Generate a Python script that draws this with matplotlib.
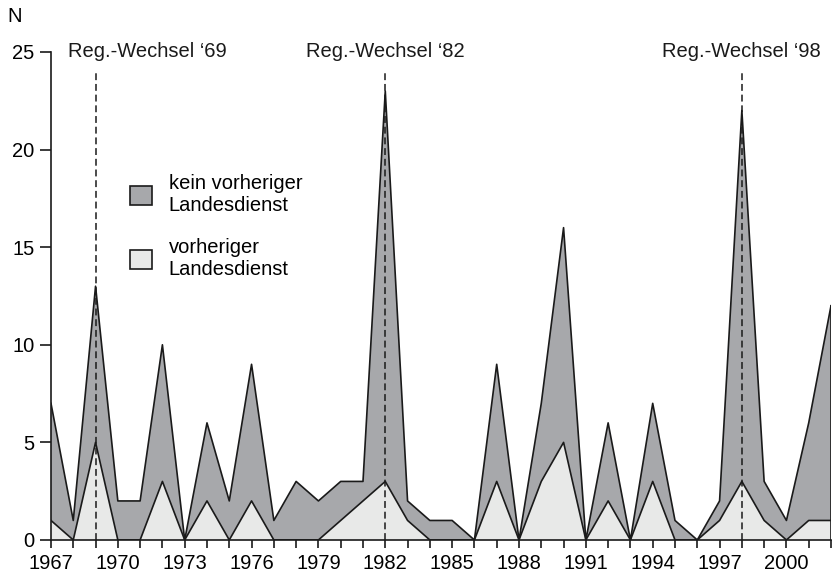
import matplotlib.pyplot as plt
import numpy as np
from matplotlib.patches import Patch

plt.rcParams['font.family'] = ['Liberation Sans', 'DejaVu Sans']

# data
years = np.arange(1967, 2003)
total = [7, 1, 13, 2, 2, 10, 0, 6, 2, 9, 1, 3, 2, 3, 3, 23, 2, 1, 1, 0,
         9, 0, 7, 16, 0, 6, 0, 7, 1, 0, 2, 22, 3, 1, 6, 12]
vorheriger = [1, 0, 5, 0, 0, 3, 0, 2, 0, 2, 0, 0, 0, 1, 2, 3, 1, 0, 0, 0,
              3, 0, 3, 5, 0, 2, 0, 3, 0, 0, 1, 3, 1, 0, 1, 1]
wechsel_years = [1969, 1982, 1998]
wechsel_labels = ['Reg.-Wechsel \u201869', 'Reg.-Wechsel \u201882', 'Reg.-Wechsel \u201898']

total = np.array(total)
vorheriger = np.array(vorheriger)

dark = '#a7a8ab'
light = '#e8e9e8'
edge = '#1a1a1a'
fs = 14.5

fig = plt.figure(figsize=(8.33, 5.82), dpi=100)
ax = fig.add_axes([0.0612, 0.0722, 0.9364, 0.8385])

ax.fill_between(years, vorheriger, total, facecolor=dark, edgecolor='none', zorder=1)
ax.fill_between(years, 0, vorheriger, facecolor=light, edgecolor='none', zorder=1)
ax.plot(years, total, color=edge, lw=1.2, zorder=3)
ax.plot(years, vorheriger, color=edge, lw=1.2, zorder=3)
ax.plot([years[-1], years[-1]], [0, total[-1]], color=edge, lw=1.2, zorder=3)

for i, (yr, lab) in enumerate(zip(wechsel_years, wechsel_labels)):
    ax.plot([yr, yr], [0, 24.1], color=edge, lw=1.1, ls=(0, (4.5, 2.5)), zorder=4)
    if i == 0:
        # first label is pushed right, clear of the y axis
        ax.text(1967.76, 25, lab, ha='left', va='center', fontsize=fs, color='#1a1a1a')
    else:
        ax.text(yr, 25, lab, ha='center', va='center', fontsize=fs, color='#1a1a1a')

ax.set_xlim(1967, 2002)
ax.set_ylim(0, 25)
ax.set_yticks([0, 5, 10, 15, 20, 25])
ax.set_xticks(np.arange(1967, 2002, 3))
ax.set_xticks(years, minor=True)
ax.tick_params(axis='x', which='both', length=6, width=1.2, labelsize=fs, pad=4, color=edge)
ax.tick_params(axis='y', length=8, width=1.2, labelsize=fs, pad=4, color=edge)

for s in ['top', 'right']:
    ax.spines[s].set_visible(False)
for s in ['left', 'bottom']:
    ax.spines[s].set_linewidth(1.2)
    ax.spines[s].set_color(edge)

fig.text(0.009, 0.972, 'N', fontsize=fs, ha='left', va='center')

handles = [Patch(facecolor=dark, edgecolor=edge, lw=1.2),
           Patch(facecolor=light, edgecolor=edge, lw=1.2)]
ax.legend(handles, ['kein vorheriger\nLandesdienst', 'vorheriger\nLandesdienst'],
          loc='upper left', bbox_to_anchor=(0.078, 0.787), frameon=False,
          fontsize=fs, handlelength=1.09, handleheight=1.09, labelspacing=1.15,
          handletextpad=0.84)

fig.savefig('out.png', dpi=100)
